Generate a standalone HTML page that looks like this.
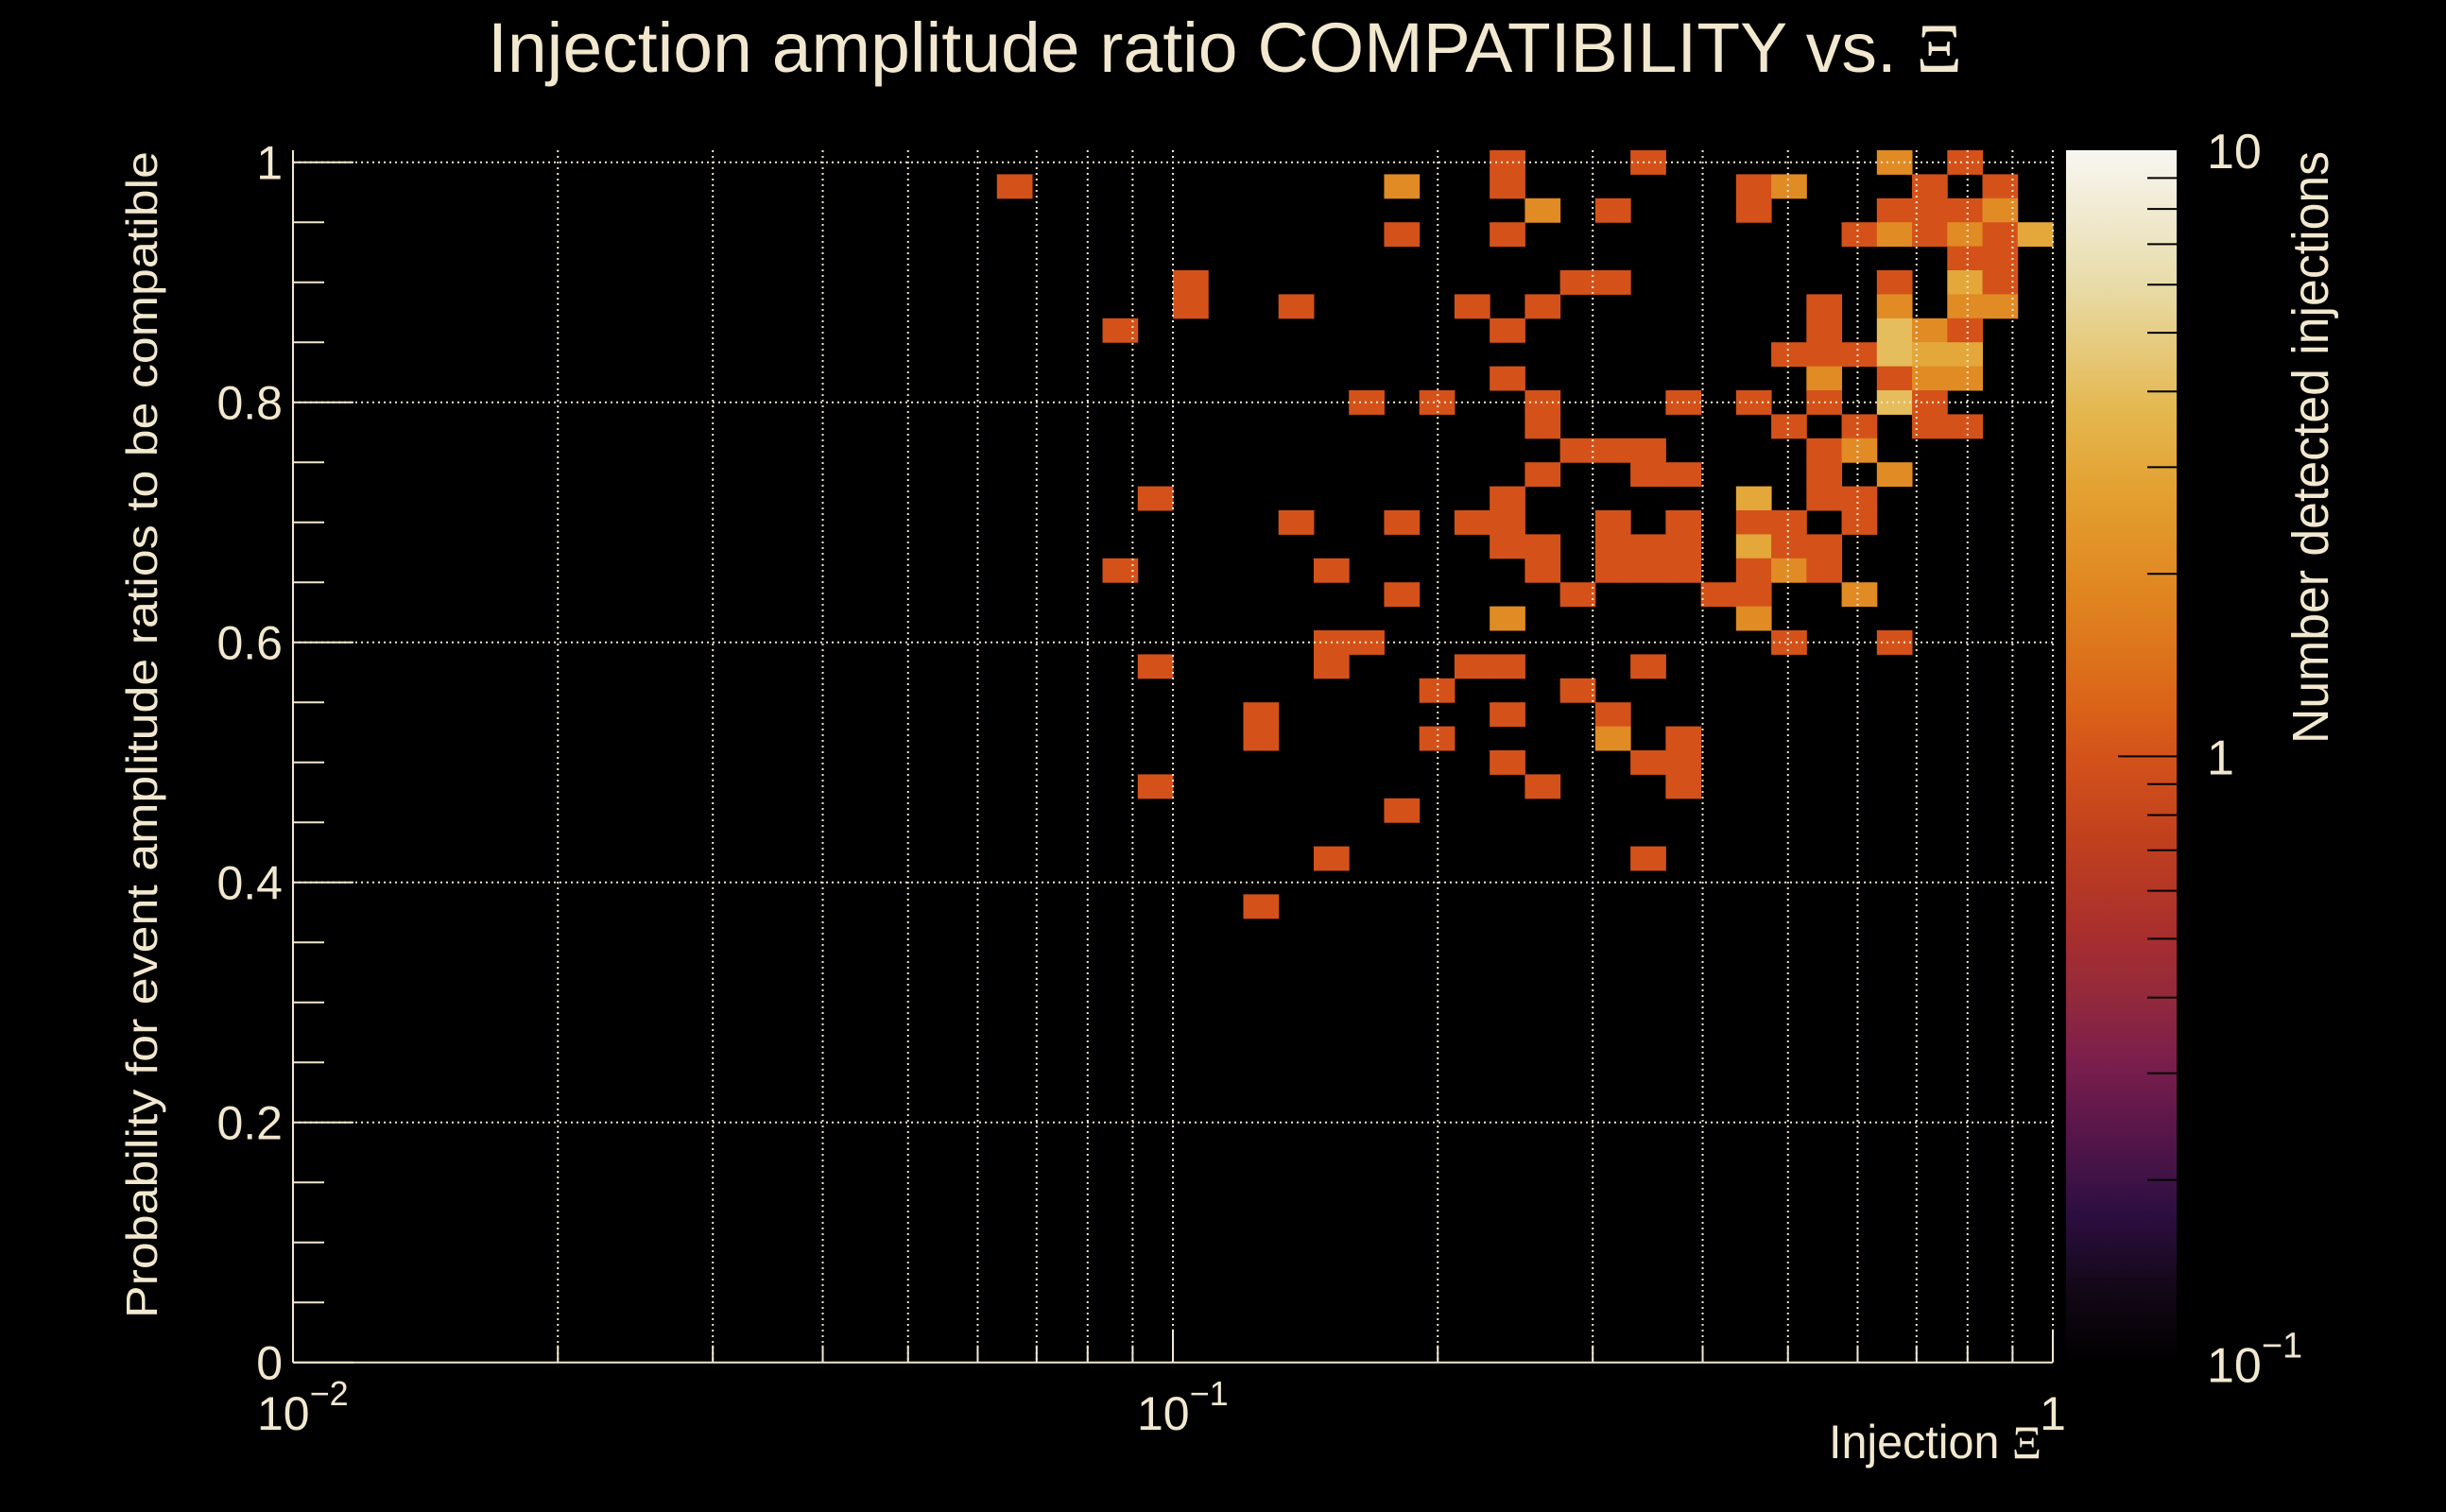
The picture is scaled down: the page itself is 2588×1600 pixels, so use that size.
<!DOCTYPE html>
<html>
<head>
<meta charset="utf-8">
<style>
  html,body{margin:0;padding:0;background:#000;}
  svg{display:block;}
  text{font-family:"Liberation Sans",sans-serif;fill:#f2e8cf;}
</style>
</head>
<body>
<svg id="chart" xmlns="http://www.w3.org/2000/svg" width="2588" height="1600" viewBox="0 0 2588 1600">
  <rect x="0" y="0" width="2588" height="1600" fill="#000"/>
  <text x="516" y="76" font-size="74" textLength="1560" lengthAdjust="spacingAndGlyphs">Injection amplitude ratio COMPATIBILITY vs.  <tspan font-family="'Liberation Serif',serif">Ξ</tspan></text>
  <g id="cells"></g>
  <g id="grid"></g>
  <g id="axes"></g>
  <text transform="translate(166,160) rotate(-90)" text-anchor="end" font-size="46" textLength="1235" lengthAdjust="spacingAndGlyphs">Probability for event amplitude ratios to be compatible</text>
  <text x="2160" y="1543" text-anchor="end" font-size="50" textLength="225" lengthAdjust="spacingAndGlyphs">Injection <tspan font-family="'Liberation Serif',serif">Ξ</tspan></text>
  <defs>
    <linearGradient id="cmap" x1="0" y1="1" x2="0" y2="0"></linearGradient>
  </defs>
  <rect x="2186" y="159" width="117" height="1283" fill="url(#cmap)"/>
  <g id="cbar"></g>
  <text transform="translate(2463,160) rotate(-90)" text-anchor="end" font-size="54" textLength="627" lengthAdjust="spacingAndGlyphs">Number detected injections</text>
</svg>
<script>
// ---- data: Ξ bin index (0..49, 50 log bins from 1e-2 to 1), probability bin centre, count
const cellBin = [
 34,38,45,47,
 20,31,34,41,42,46,48,
 35,37,41,45,46,47,48,
 31,34,44,45,46,47,48,49,
 47,48,
 25,36,37,45,47,48,
 25,28,33,35,43,45,47,48,
 23,34,43,45,46,47,
 42,43,44,45,46,47,
 34,43,45,46,47,
 30,32,35,39,41,43,45,46,
 35,42,44,46,47,
 36,37,38,43,44,
 35,38,39,43,45,
 24,34,41,43,44,
 28,31,33,34,37,39,41,42,44,
 34,35,37,38,39,41,42,43,
 23,29,35,37,38,39,41,42,43,
 31,36,40,41,44,
 34,41,
 29,30,42,45,
 24,29,33,34,38,
 32,36,
 27,34,37,
 27,32,37,39,
 34,38,39,
 24,35,39,
 31,
 29,38,
 27
];
const cellProb = [
 1.00,1.00,1.00,1.00,
 0.98,0.98,0.98,0.98,0.98,0.98,0.98,
 0.96,0.96,0.96,0.96,0.96,0.96,0.96,
 0.94,0.94,0.94,0.94,0.94,0.94,0.94,0.94,
 0.92,0.92,
 0.90,0.90,0.90,0.90,0.90,0.90,
 0.88,0.88,0.88,0.88,0.88,0.88,0.88,0.88,
 0.86,0.86,0.86,0.86,0.86,0.86,
 0.84,0.84,0.84,0.84,0.84,0.84,
 0.82,0.82,0.82,0.82,0.82,
 0.80,0.80,0.80,0.80,0.80,0.80,0.80,0.80,
 0.78,0.78,0.78,0.78,0.78,
 0.76,0.76,0.76,0.76,0.76,
 0.74,0.74,0.74,0.74,0.74,
 0.72,0.72,0.72,0.72,0.72,
 0.70,0.70,0.70,0.70,0.70,0.70,0.70,0.70,0.70,
 0.68,0.68,0.68,0.68,0.68,0.68,0.68,0.68,
 0.66,0.66,0.66,0.66,0.66,0.66,0.66,0.66,0.66,
 0.64,0.64,0.64,0.64,0.64,
 0.62,0.62,
 0.60,0.60,0.60,0.60,
 0.58,0.58,0.58,0.58,0.58,
 0.56,0.56,
 0.54,0.54,0.54,
 0.52,0.52,0.52,0.52,
 0.50,0.50,0.50,
 0.48,0.48,0.48,
 0.46,
 0.42,0.42,
 0.38
];
const cellCount = [
 1,1,2,1,
 1,2,1,1,2,1,1,
 2,1,1,1,1,1,2,
 1,1,1,2,1,2,1,3,
 1,1,
 1,1,1,1,3,1,
 1,1,1,1,1,2,2,2,
 1,1,1,4,2,1,
 1,1,1,4,3,3,
 1,2,1,2,2,
 1,1,1,1,1,1,4,1,
 1,1,1,1,1,
 1,1,1,1,2,
 1,1,1,1,2,
 1,1,3,1,1,
 1,1,1,1,1,1,1,1,1,
 1,1,1,1,1,3,1,1,
 1,1,1,1,1,1,1,2,1,
 1,1,1,1,2,
 2,2,
 1,1,1,1,
 1,1,1,1,1,
 1,1,
 1,1,1,
 1,1,2,1,
 1,1,1,
 1,1,1,
 1,
 1,1,
 1
];
const yTickLabels = ["0","0.2","0.4","0.6","0.8","1"];
const yTickValues = [0,0.2,0.4,0.6,0.8,1];
const xDecades = [-2,-1,0];
const cbarDecades = [-1,0,1];

// ---- scales
const X0 = 310, DEC = 931, Y0 = 1441.7, YSPAN = 1270;
const CB_TOP = 159, CB_BOT = 1441.7;
const NBX = 50, LOGMIN = -2, LOGMAX = 0;
function xScale(v){ return X0 + (Math.log10(v) - LOGMIN) * DEC; }
function yScale(p){ return Y0 - p * YSPAN; }
function cbScale(v){ return CB_BOT - (Math.log10(v) + 1) / 2 * (CB_BOT - CB_TOP); }

const stops = [
 [0,"#000000"],[0.063,"#140818"],[0.122,"#2c0e40"],[0.15,"#3e1246"],[0.2,"#5e174a"],
 [0.251,"#7c1f4c"],[0.307,"#952a3a"],[0.352,"#a82e2e"],[0.43,"#c0401e"],[0.5,"#d4521a"],
 [0.543,"#da6418"],[0.63,"#e08420"],[0.717,"#e3a030"],[0.787,"#e4b850"],[0.891,"#e8dcaa"],[1,"#f8f6f2"]
];
function hex(c){ return [parseInt(c.slice(1,3),16),parseInt(c.slice(3,5),16),parseInt(c.slice(5,7),16)]; }
function colorFor(v){
  let t = (Math.log10(v) + 1) / 2;
  t = Math.max(0, Math.min(1, t));
  for (let i = 1; i < stops.length; i++){
    if (t <= stops[i][0]){
      const a = stops[i-1], b = stops[i];
      const f = (t - a[0]) / (b[0] - a[0]);
      const ca = hex(a[1]), cb = hex(b[1]);
      const r = ca.map((x, j) => Math.round(x + (cb[j] - x) * f));
      return "rgb(" + r.join(",") + ")";
    }
  }
  return stops[stops.length-1][1];
}

const NS = "http://www.w3.org/2000/svg";
function mk(tag, attrs, parent){
  const e = document.createElementNS(NS, tag);
  for (const k in attrs) e.setAttribute(k, attrs[k]);
  parent.appendChild(e);
  return e;
}

// ---- gradient
const grad = document.getElementById("cmap");
stops.forEach(s => { mk("stop", {offset: s[0], "stop-color": s[1]}, grad); });

// ---- cells
const cellsG = document.getElementById("cells");
const binW = (LOGMAX - LOGMIN) / NBX;
for (let i = 0; i < cellBin.length; i++){
  const lo = Math.pow(10, LOGMIN + binW * cellBin[i]);
  const hi = Math.pow(10, LOGMIN + binW * (cellBin[i] + 1));
  const x1 = xScale(lo), x2 = xScale(hi);
  const yt = yScale(cellProb[i] + 0.01), yb = yScale(cellProb[i] - 0.01);
  const r = mk("rect", {x: x1.toFixed(2), y: yt.toFixed(2), width: (x2 - x1 + 0.5).toFixed(2), height: (yb - yt + 0.5).toFixed(2), fill: colorFor(cellCount[i])}, cellsG);
  
  
}

// ---- grid
const gridG = document.getElementById("grid");
const gstyle = {stroke: "#f2e8cf", "stroke-width": 2, "stroke-dasharray": "2 4", fill: "none"};
for (let d = -2; d < 0; d++){
  for (let m = 1; m <= 9; m++){
    const v = m * Math.pow(10, d);
    if (d === -2 && m === 1) continue;
    const x = xScale(v);
    const l = mk("line", Object.assign({x1: x, x2: x, y1: CB_TOP, y2: Y0}, gstyle), gridG);
    
    
  }
}
{
  const x = xScale(1);
  const l = mk("line", Object.assign({x1: x, x2: x, y1: CB_TOP, y2: Y0}, gstyle), gridG);
  
  
}
yTickValues.forEach(p => {
  if (p === 0) return;
  const y = yScale(p);
  const l = mk("line", Object.assign({x1: X0, x2: xScale(1), y1: y, y2: y}, gstyle), gridG);
  
  
});

// ---- axes
const axG = document.getElementById("axes");
const ax = {stroke: "#f2e8cf", "stroke-width": 2};
const yaxis = mk("line", Object.assign({x1: X0, x2: X0, y1: CB_TOP, y2: Y0}, ax), axG);


const xaxis = mk("line", Object.assign({x1: X0, x2: xScale(1), y1: Y0, y2: Y0}, ax), axG);


for (let k = 0; k <= 20; k++){
  const p = k * 0.05;
  const major = (k % 4 === 0);
  const y = yScale(p);
  const t = mk("line", Object.assign({x1: X0, x2: X0 + (major ? 64 : 33), y1: y, y2: y}, ax), axG);
  
  
}
yTickValues.forEach((p, i) => {
  const t = mk("text", {x: 299, y: yScale(p) + 18, "text-anchor": "end", "font-size": 50}, axG);
  t.textContent = yTickLabels[i];
  
  
});
for (let d = -2; d <= 0; d++){
  for (let m = 1; m <= 9; m++){
    if (d === 0 && m > 1) break;
    const v = m * Math.pow(10, d);
    const x = xScale(v);
    const t = mk("line", Object.assign({x1: x, x2: x, y1: Y0, y2: Y0 - (m === 1 ? 35 : 18)}, ax), axG);
    
    
  }
}
xDecades.forEach(d => {
  const x = xScale(Math.pow(10, d));
  const t = mk("text", {x: d === 0 ? x : x - 38, y: 1513, "font-size": 50}, axG);
  if (d === 0){ t.setAttribute("text-anchor", "middle"); t.textContent = "1"; }
  else {
    t.textContent = "10";
    const s = mk("tspan", {dy: -26, "font-size": 36}, t);
    s.textContent = "\u2212" + (-d);
  }
  
  
});

// ---- colour bar axis
const cbG = document.getElementById("cbar");
for (let d = -1; d < 1; d++){
  for (let m = 1; m <= 9; m++){
    const v = m * Math.pow(10, d);
    if (d === -1 && m === 1) continue;
    const y = cbScale(v);
    const t = mk("line", {x1: m === 1 ? 2241 : 2272, x2: 2303, y1: y, y2: y, stroke: "#000", "stroke-width": 2}, cbG);
    
    
  }
}
cbarDecades.forEach(d => {
  const y = cbScale(Math.pow(10, d));
  const t = mk("text", {x: 2335, y: y + (d === 1 ? 19 : d === 0 ? 19 : 21), "font-size": 52}, cbG);
  if (d === 0) t.textContent = "1";
  else if (d === 1) t.textContent = "10";
  else {
    t.textContent = "10";
    const s = mk("tspan", {dy: -26, "font-size": 38}, t);
    s.textContent = "\u22121";
  }
  
  
});
</script>
</body>
</html>
